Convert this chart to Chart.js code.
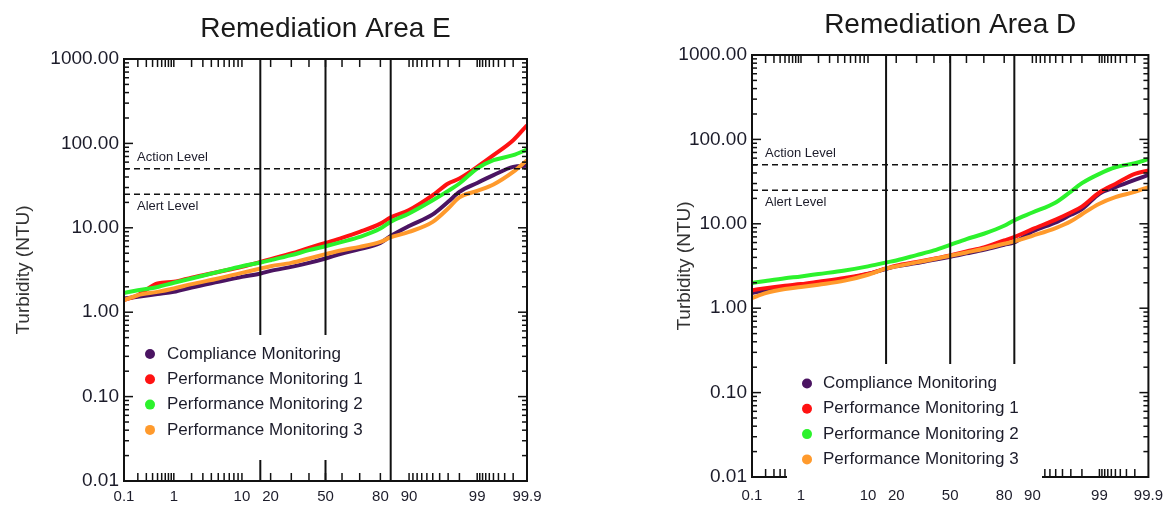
<!DOCTYPE html>
<html>
<head>
    <title>Turbidity probability plots - Remediation Areas E and D</title>
    <meta charset="utf-8" />
    <script src="https://cdn.jsdelivr.net/npm/chart.js@4.4.0/dist/chart.umd.min.js"></script>
    <style>
        html, body {
            margin: 0;
            padding: 0;
            background: #fff;
        }
        body {
            width: 1173px;
            height: 506px;
            position: relative;
            overflow: hidden;
        }
        canvas {
            position: absolute;
            top: 0;
        }
        #chartE { left: 0; }
        #chartD { left: 586px; }
    </style>
</head>
<body>
    <canvas id="chartE" width="586" height="506"></canvas>
    <canvas id="chartD" width="587" height="506"></canvas>

    <script>
        const percentiles = [0.1, 0.2, 0.5, 1, 2, 5, 10, 16, 20, 30, 40, 50, 60, 70, 80, 84, 90, 95, 97, 98, 99, 99.5, 99.8, 99.9];

        const seriesNames = ['Compliance Monitoring', 'Performance Monitoring 1', 'Performance Monitoring 2', 'Performance Monitoring 3'];

        // Remediation Area E, turbidity (NTU)
        const areaE_CM  = [1.45, 1.52, 1.64, 1.74, 1.96, 2.29, 2.62, 2.87, 3.09, 3.44, 3.84, 4.33, 4.96, 5.58, 6.62, 7.95, 10.5, 14.4, 20.3, 26.6, 34.0, 42.0, 52.7, 54.2];
        const areaE_PM1 = [1.39, 1.59, 2.19, 2.29, 2.57, 3.00, 3.44, 3.95, 4.25, 4.96, 5.78, 6.62, 7.59, 8.94, 11.2, 13.2, 16.2, 24.3, 33.5, 38.4, 52.7, 72.5, 109, 164];
        const areaE_PM2 = [1.69, 1.82, 1.99, 2.23, 2.51, 3.00, 3.51, 3.88, 4.13, 4.74, 5.43, 6.05, 6.81, 7.80, 9.81, 11.75, 14.8, 21.2, 27.4, 33.5, 50.4, 63.2, 72.5, 84.7];
        const areaE_PM3 = [1.39, 1.59, 1.74, 1.91, 2.15, 2.51, 2.92, 3.30, 3.51, 3.84, 4.33, 4.87, 5.43, 5.94, 6.81, 7.68, 8.94, 11.75, 16.9, 22.9, 27.4, 32.6, 45.9, 63.2];

        // Remediation Area D, turbidity (NTU)
        const areaD_CM  = [1.51, 1.63, 1.76, 1.86, 1.99, 2.21, 2.54, 2.93, 3.13, 3.42, 3.75, 4.07, 4.46, 4.92, 5.64, 6.01, 8.12, 10.4, 12.8, 14.9, 22.7, 27.2, 33.2, 37.9];
        const areaD_PM1 = [1.63, 1.73, 1.85, 1.93, 2.06, 2.28, 2.56, 2.96, 3.18, 3.52, 3.85, 4.22, 4.71, 5.25, 6.35, 6.95, 8.65, 11.2, 13.6, 16.0, 23.5, 29.7, 39.1, 42.8];
        const areaD_PM2 = [1.99, 2.10, 2.26, 2.38, 2.54, 2.80, 3.13, 3.49, 3.68, 4.26, 4.84, 5.64, 6.59, 7.62, 9.47, 10.95, 13.6, 17.9, 24.1, 30.3, 39.1, 46.8, 52.2, 58.3];
        const areaD_PM3 = [1.32, 1.51, 1.69, 1.78, 1.90, 2.12, 2.49, 2.96, 3.13, 3.49, 3.82, 4.18, 4.58, 5.06, 5.80, 6.18, 7.21, 8.89, 10.7, 13.0, 17.3, 20.7, 23.9, 27.2];

        // Axis labels and reference lines
        const xTickLabels = ['0.1', '1', '10', '20', '50', '80', '90', '99', '99.9'];
        const xMinorTicks = [0.2, 0.3, 0.4, 0.5, 0.6, 0.7, 0.8, 0.9, 1, 2, 3, 4, 5, 6, 7, 8, 9, 10,
                             20, 30, 40, 50, 60, 70, 80, 90, 91, 92, 93, 94, 95, 96, 97, 98,
                             99, 99.1, 99.2, 99.3, 99.4, 99.5, 99.6, 99.7, 99.8];
        const yTickLabels = [0.01, 0.1, 1, 10, 100, 1000];
        const sigmaLines = [15.87, 50, 84.13];
        const actionLevel = 50;
        const alertLevel = 25;

        const seriesColors = ['#4b1462', '#ff1212', '#2cf22c', '#ff9a2c'];
        const drawOrder = [3, 2, 1, 0]; // orange on top, purple at the bottom
        const FONT = '"Liberation Sans", Arial, Helvetica, sans-serif';

        // inverse of the standard normal CDF (Acklam), used for the probability axis
        function probit(p) {
            const a = [-3.969683028665376e+01, 2.209460984245205e+02, -2.759285104469687e+02, 1.383577518672690e+02, -3.066479806614716e+01, 2.506628277459239e+00];
            const b = [-5.447609879822406e+01, 1.615858368580409e+02, -1.556989798598866e+02, 6.680131188771972e+01, -1.328068155288572e+01];
            const c = [-7.784894002430293e-03, -3.223964580411365e-01, -2.400758277161838e+00, -2.549732539343734e+00, 4.374664141464968e+00, 2.938163982699107e+00];
            const d = [7.784695709041462e-03, 3.224671290700398e-01, 2.445134137142996e+00, 3.754408661907416e+00];
            const pl = 0.02425;
            let q, r;
            if (p < pl) {
                q = Math.sqrt(-2 * Math.log(p));
                return (((((c[0] * q + c[1]) * q + c[2]) * q + c[3]) * q + c[4]) * q + c[5]) / ((((d[0] * q + d[1]) * q + d[2]) * q + d[3]) * q + 1);
            }
            if (p <= 1 - pl) {
                q = p - 0.5;
                r = q * q;
                return (((((a[0] * r + a[1]) * r + a[2]) * r + a[3]) * r + a[4]) * r + a[5]) * q / (((((b[0] * r + b[1]) * r + b[2]) * r + b[3]) * r + b[4]) * r + 1);
            }
            q = Math.sqrt(-2 * Math.log(1 - p));
            return -(((((c[0] * q + c[1]) * q + c[2]) * q + c[3]) * q + c[4]) * q + c[5]) / ((((d[0] * q + d[1]) * q + d[2]) * q + d[3]) * q + 1);
        }

        const pz = p => probit(p / 100);

        // everything drawn on top of the curves: reference lines, ticks, frame, legend, title
        function decorPlugin(panel) {
            return {
                id: 'decor',
                afterDatasetsDraw(chart) {
                    const ctx = chart.ctx;
                    const area = chart.chartArea;
                    const xs = chart.scales.x;
                    const ys = chart.scales.y;
                    const seg = (x1, y1, x2, y2) => {
                        ctx.beginPath();
                        ctx.moveTo(x1, y1);
                        ctx.lineTo(x2, y2);
                        ctx.stroke();
                    };
                    ctx.save();
                    ctx.strokeStyle = '#111';

                    // action / alert levels
                    ctx.lineWidth = 1.6;
                    ctx.setLineDash([6, 4]);
                    [actionLevel, alertLevel].forEach(v => {
                        const y = ys.getPixelForValue(v);
                        seg(area.left, y, area.right, y);
                    });
                    ctx.setLineDash([]);

                    // -1 sigma, median, +1 sigma
                    ctx.lineWidth = 2;
                    sigmaLines.forEach(p => {
                        const x = xs.getPixelForValue(pz(p));
                        seg(x, area.top, x, area.bottom);
                    });

                    // inward ticks on all four sides
                    ctx.lineWidth = 1.5;
                    xMinorTicks.forEach(p => {
                        const x = xs.getPixelForValue(pz(p));
                        seg(x, area.bottom, x, area.bottom - 8);
                        seg(x, area.top, x, area.top + 8);
                    });
                    yTickLabels.forEach(dec => {
                        for (let m = 1; m <= 9; m++) {
                            const v = dec * m;
                            if (v > 1000) break;
                            const len = m === 1 ? 9 : 5;
                            const y = ys.getPixelForValue(v);
                            seg(area.left, y, area.left + len, y);
                            seg(area.right, y, area.right - len, y);
                        }
                    });

                    ctx.lineWidth = 2;
                    ctx.strokeRect(area.left, area.top, area.right - area.left, area.bottom - area.top);

                    // level labels
                    ctx.fillStyle = '#1c1c2a';
                    ctx.font = '13px ' + FONT;
                    ctx.textAlign = 'left';
                    ctx.textBaseline = 'middle';
                    ctx.fillText('Action Level', area.left + 13, ys.getPixelForValue(actionLevel) - 11.5);
                    ctx.fillText('Alert Level', area.left + 13, ys.getPixelForValue(alertLevel) + 12);

                    // legend box, white so it hides what runs under it
                    const L = panel.legend;
                    ctx.fillStyle = '#fff';
                    ctx.fillRect(area.left + L.boxLeft, area.bottom + L.boxTop, L.boxRight - L.boxLeft, L.boxBottom - L.boxTop);
                    ctx.font = '17px ' + FONT;
                    seriesNames.forEach((name, i) => {
                        const y = area.bottom + L.firstRow + i * L.rowStep;
                        ctx.fillStyle = seriesColors[i];
                        ctx.beginPath();
                        ctx.arc(area.left + L.dotX, y, 5, 0, Math.PI * 2);
                        ctx.fill();
                        ctx.fillStyle = '#1c1c2a';
                        ctx.fillText(name, area.left + L.textX, y);
                    });

                    // panel title
                    ctx.font = '28px ' + FONT;
                    ctx.textAlign = 'center';
                    ctx.fillStyle = '#1a1a1a';
                    ctx.fillText(panel.title, (area.left + area.right) / 2, area.top - 30);
                    ctx.restore();
                }
            };
        }

        function makePanel(canvasId, panel, values) {
            const datasets = values.map((vals, i) => ({
                label: seriesNames[i],
                data: vals.map((v, k) => ({ x: pz(percentiles[k]), y: v })),
                borderColor: seriesColors[i],
                backgroundColor: seriesColors[i],
                borderWidth: 4,
                pointRadius: 0,
                cubicInterpolationMode: 'monotone',
                order: drawOrder[i]
            }));

            return new Chart(document.getElementById(canvasId), {
                type: 'line',
                data: { datasets: datasets },
                options: {
                    responsive: false,
                    animation: false,
                    devicePixelRatio: 1,
                    layout: { padding: panel.padding },
                    plugins: {
                        legend: { display: false },
                        tooltip: { enabled: false },
                        title: { display: false }
                    },
                    scales: {
                        x: {
                            type: 'linear',
                            min: pz(0.1),
                            max: pz(99.9),
                            grid: { display: false, drawTicks: false },
                            border: { display: false },
                            afterBuildTicks: scale => {
                                scale.ticks = xTickLabels.map(t => ({ value: pz(parseFloat(t)) }));
                            },
                            afterFit: scale => { scale.height = panel.xHeight; },
                            ticks: {
                                autoSkip: false,
                                maxRotation: 0,
                                padding: panel.xPad,
                                color: '#1c1c2a',
                                font: { family: FONT, size: 15 },
                                callback: (value, index) => xTickLabels[index]
                            }
                        },
                        y: {
                            type: 'logarithmic',
                            min: 0.01,
                            max: 1000,
                            grid: { display: false, drawTicks: false },
                            border: { display: false },
                            afterBuildTicks: scale => {
                                scale.ticks = yTickLabels.map(v => ({ value: v }));
                            },
                            afterFit: scale => { scale.width = panel.yWidth; },
                            ticks: {
                                padding: 5,
                                color: '#1c1c2a',
                                font: { family: FONT, size: 19 },
                                callback: value => Number(value).toFixed(2)
                            },
                            title: {
                                display: true,
                                text: 'Turbidity (NTU)',
                                color: '#333',
                                font: { family: FONT, size: 19 },
                                padding: { top: 12.5, bottom: 0 }
                            }
                        }
                    }
                },
                plugins: [decorPlugin(panel)]
            });
        }

        makePanel('chartE', {
            title: 'Remediation Area E',
            padding: { left: 0, right: 59, top: 59, bottom: 0 },
            yWidth: 124,
            xHeight: 25,
            xPad: 7,
            legend: { boxLeft: 11, boxRight: 256, boxTop: -146, boxBottom: -21, dotX: 26, textX: 43, firstRow: -127, rowStep: 25.3 }
        }, [areaE_CM, areaE_PM1, areaE_PM2, areaE_PM3]);

        makePanel('chartD', {
            title: 'Remediation Area D',
            padding: { left: 75, right: 18, top: 55, bottom: 0 },
            yWidth: 91,
            xHeight: 29,
            xPad: 10,
            legend: { boxLeft: 35, boxRight: 290, boxTop: -113, boxBottom: 5, dotX: 55, textX: 71, firstRow: -93.5, rowStep: 25.3 }
        }, [areaD_CM, areaD_PM1, areaD_PM2, areaD_PM3]);
    </script>
</body>
</html>
